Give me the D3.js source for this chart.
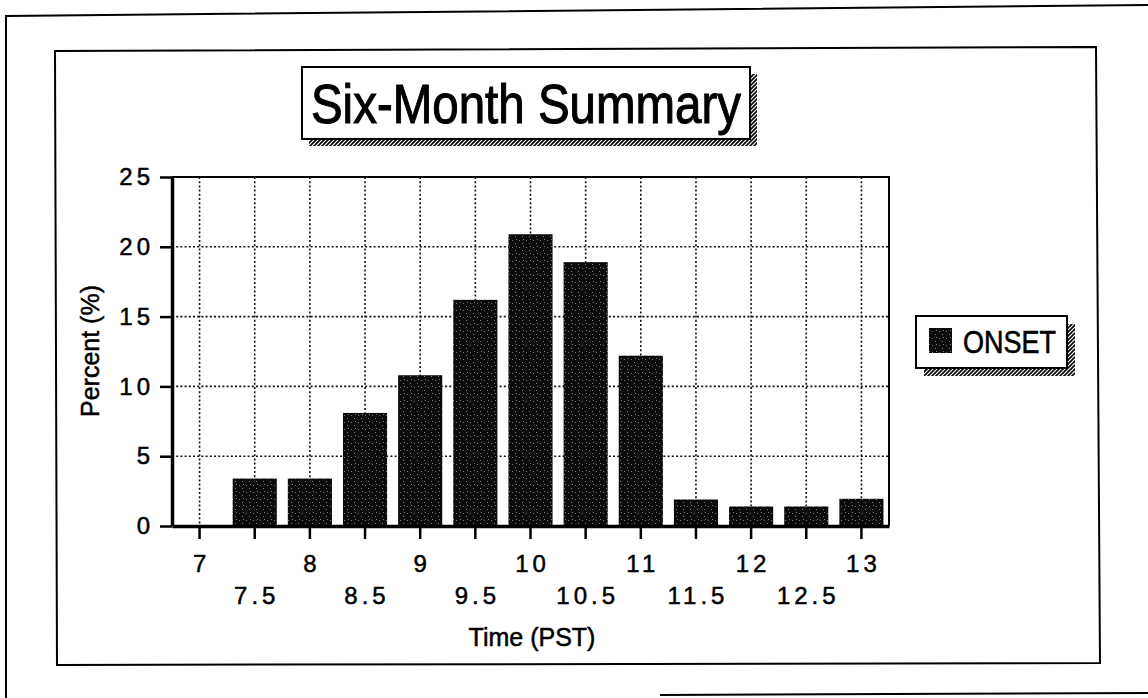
<!DOCTYPE html>
<html>
<head>
<meta charset="utf-8">
<script src="https://cdn.jsdelivr.net/npm/d3@7"></script>
<style>
  body { margin: 0; background: #fff; }
  svg { display: block; font-family: "Liberation Sans", Arial, Helvetica, sans-serif; }
  svg text { fill: #000; stroke: #000; stroke-width: 0.5px; }
  .tick text { font-family: "Liberation Sans", Arial, Helvetica, sans-serif; font-size: 24px; letter-spacing: 4px; }
</style>
</head>
<body>
<div id="chart"></div>
<script>
// data
const categories = ["7", "7.5", "8", "8.5", "9", "9.5", "10", "10.5", "11", "11.5", "12", "12.5", "13"];
const onset = [0, 3.4, 3.4, 8.1, 10.8, 16.2, 20.9, 18.9, 12.2, 1.9, 1.4, 1.4, 1.95];
const yTicks = [0, 5, 10, 15, 20, 25];
const gridY = [5, 10, 15, 20];
const seriesName = "ONSET";

const W = 1148, H = 698;
const svg = d3.select("#chart").append("svg").attr("width", W).attr("height", H);

const defs = svg.append("defs");
// dithered black fill of the bars
const bp = defs.append("pattern").attr("id", "barfill")
  .attr("patternUnits", "userSpaceOnUse").attr("width", 7).attr("height", 7);
bp.append("rect").attr("width", 7).attr("height", 7).attr("fill", "#0b0b0b");
[[1, 2], [4, 5], [5, 1]].forEach(p => {
  bp.append("rect").attr("x", p[0]).attr("y", p[1]).attr("width", 1).attr("height", 1).attr("fill", "#7a7a7a");
});
// hatched drop shadow
const hp = defs.append("pattern").attr("id", "hatch")
  .attr("patternUnits", "userSpaceOnUse").attr("width", 4).attr("height", 4);
hp.append("rect").attr("width", 4).attr("height", 4).attr("fill", "#fff");
hp.append("path").attr("d", "M-1,5 L5,-1 M-1,1 L1,-1 M3,5 L5,3").attr("stroke", "#000").attr("stroke-width", 1.6);

// page frames (the scan is slightly skewed)
svg.append("path").attr("d", "M6,698 L6,16 L1148,5").attr("fill", "none").attr("stroke", "#000").attr("stroke-width", 2);
svg.append("path").attr("d", "M660,695 L1148,693").attr("fill", "none").attr("stroke", "#000").attr("stroke-width", 2);
svg.append("path").attr("d", "M55,51 L1096,47 L1100,663 L57,665 Z").attr("fill", "none").attr("stroke", "#000").attr("stroke-width", 2);

// scales
const x = d3.scaleBand().domain(categories).range([172, 889]).paddingInner(0.2).paddingOuter(0.1);
const y = d3.scaleLinear().domain([0, 25]).range([526, 177]);

// grid
const grid = svg.append("g").attr("stroke", "#111").attr("stroke-width", 1.6).attr("stroke-dasharray", "2,2.2");
grid.selectAll("line.gx").data(categories).join("line").attr("class", "gx")
  .attr("x1", d => x(d) + x.bandwidth() / 2).attr("x2", d => x(d) + x.bandwidth() / 2)
  .attr("y1", y(25)).attr("y2", y(0));
grid.selectAll("line.gy").data(gridY).join("line").attr("class", "gy")
  .attr("x1", 172).attr("x2", 889).attr("y1", d => y(d)).attr("y2", d => y(d));

// bars
svg.append("g").selectAll("rect").data(onset).join("rect")
  .attr("x", (d, i) => x(categories[i]))
  .attr("width", x.bandwidth())
  .attr("y", d => y(d))
  .attr("height", d => y(0) - y(d))
  .attr("fill", "url(#barfill)");

// plot border (top and right)
svg.append("path").attr("d", `M172,${y(25)} L889,${y(25)} L889,${y(0)}`)
  .attr("fill", "none").attr("stroke", "#000").attr("stroke-width", 2);

// axes
const xAxis = svg.append("g").attr("transform", `translate(0,${y(0)})`)
  .call(d3.axisBottom(x).tickSize(13).tickSizeOuter(0));
xAxis.attr("font-size", null).attr("font-family", null);
xAxis.select(".domain").attr("stroke-width", 3.5);
xAxis.selectAll(".tick line").attr("stroke-width", 2.5);
xAxis.selectAll(".tick text")
  .attr("y", (d, i) => i % 2 ? 61 : 29)
  .attr("dx", 2);

const yAxis = svg.append("g").attr("transform", "translate(172,0)")
  .call(d3.axisLeft(y).tickValues(yTicks).tickSize(12).tickSizeOuter(0));
yAxis.attr("font-size", null).attr("font-family", null);
yAxis.select(".domain").attr("stroke-width", 3.5);
yAxis.selectAll(".tick text").attr("x", -18);
yAxis.selectAll(".tick line").attr("stroke-width", 2.5);

// axis titles
svg.append("text").attr("x", 532).attr("y", 646).attr("text-anchor", "middle")
  .attr("font-size", 25).text("Time (PST)");
svg.append("text").attr("transform", "translate(99,351) rotate(-90)").attr("text-anchor", "middle")
  .attr("font-size", 25).text("Percent (%)");

// title box
svg.append("rect").attr("x", 309).attr("y", 74).attr("width", 448).attr("height", 72).attr("fill", "url(#hatch)");
svg.append("rect").attr("x", 302).attr("y", 67).attr("width", 448).attr("height", 72)
  .attr("fill", "#fff").attr("stroke", "#000").attr("stroke-width", 2);
svg.append("text").attr("transform", "translate(526,123) scale(1,1.18)").attr("text-anchor", "middle")
  .attr("font-size", 47.5).style("stroke-width", "0.9px").text("Six-Month Summary");

// legend
const lg = svg.append("g");
lg.append("rect").attr("x", 924).attr("y", 324).attr("width", 151).attr("height", 52).attr("fill", "url(#hatch)");
lg.append("rect").attr("x", 916).attr("y", 316).attr("width", 151).attr("height", 52)
  .attr("fill", "#fff").attr("stroke", "#000").attr("stroke-width", 2);
lg.append("rect").attr("x", 929).attr("y", 328).attr("width", 23).attr("height", 25).attr("fill", "url(#barfill)");
lg.append("text").attr("transform", "translate(963,353) scale(1,1.18)")
  .attr("font-size", 27).text(seriesName);
</script>
</body>
</html>
